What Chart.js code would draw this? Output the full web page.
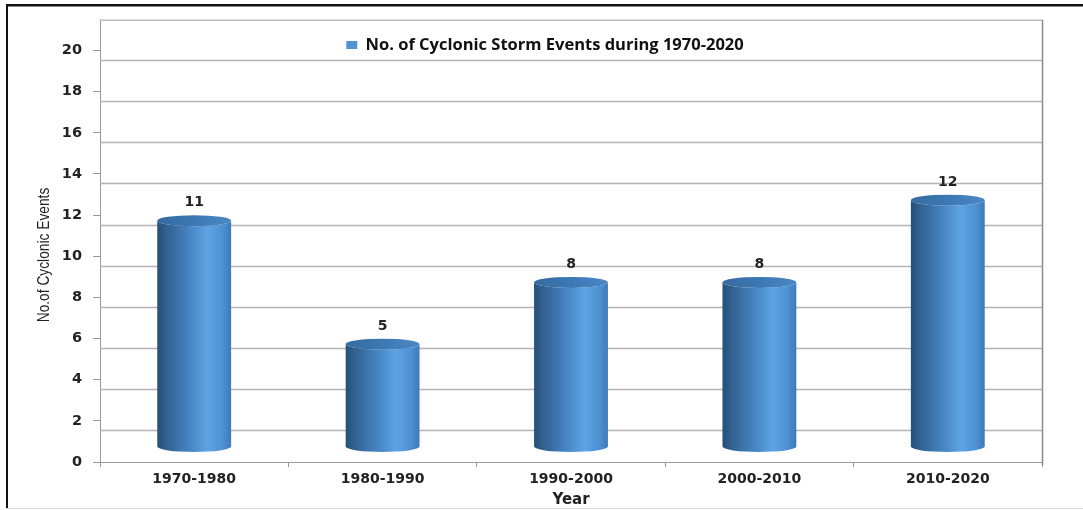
<!DOCTYPE html>
<html>
<head>
<meta charset="utf-8">
<title>Cyclonic Storm Events 1970-2020</title>
<script src="https://cdn.jsdelivr.net/npm/chart.js@4.4.1/dist/chart.umd.min.js"></script>
<style>
  html, body { margin: 0; padding: 0; background: #fff; }
  canvas { display: block; }
</style>
</head>
<body>
<canvas id="chart" width="1083" height="510"></canvas>
<script>
// Decades and number of cyclonic storm events recorded in each
const categories = ['1970-1980', '1980-1990', '1990-2000', '2000-2010', '2010-2020'];
const stormEvents = [11, 5, 8, 8, 12];
const yTicks = [0, 2, 4, 6, 8, 10, 12, 14, 16, 18, 20];
const seriesLabel = 'No. of Cyclonic Storm Events during 1970-2020';
const xTitle = 'Year';
const yTitle = 'No.of Cyclonic Events';

const AXIS_GREY = '#9a9a9a';
const TEXT = '#222222';
const BOLD_FONT = 'DejaVu Sans';
const LIFT = 15;        // cylinders sit on a raised 3D floor
const GRID_SHIFT = 9.5; // back-wall grid lines sit a little below the axis ticks
const CAP_RY = 5.5;

// White page with the picture frame around it
const framePlugin = {
  id: 'frame',
  beforeDraw(chart) {
    const ctx = chart.ctx;
    ctx.save();
    ctx.fillStyle = '#ffffff';
    ctx.fillRect(0, 0, chart.width, chart.height);
    ctx.fillStyle = '#111111';
    ctx.fillRect(6, 4, chart.width - 6, 2.5);
    ctx.fillRect(6, 4, 2, chart.height - 6);
    ctx.fillStyle = '#dddddd';
    ctx.fillRect(6, chart.height - 2, chart.width - 6, 1);
    ctx.restore();
  }
};

// Back wall: grid lines, top edge and right edge
const wallPlugin = {
  id: 'wall',
  beforeDatasetsDraw(chart) {
    const {ctx, chartArea: a, scales: {y}} = chart;
    ctx.save();
    ctx.strokeStyle = '#b4b4b4';
    ctx.lineWidth = 1.5;
    y.ticks.forEach(t => {
      if (t.value <= 0) return;
      const py = Math.round(y.getPixelForValue(t.value) + GRID_SHIFT) + 0.5;
      ctx.beginPath();
      ctx.moveTo(a.left, py);
      ctx.lineTo(a.right, py);
      ctx.stroke();
    });
    ctx.strokeStyle = '#bcbcbc';
    ctx.beginPath();
    ctx.moveTo(a.left, a.top + 0.5);
    ctx.lineTo(a.right, a.top + 0.5);
    ctx.stroke();
    ctx.strokeStyle = '#8c8c8c';
    ctx.beginPath();
    ctx.moveTo(a.right + 0.5, a.top);
    ctx.lineTo(a.right + 0.5, a.bottom + 3);
    ctx.stroke();
    ctx.restore();
  }
};

function drawCylinder(ctx, cx, top, bottom, rx, ry) {
  const body = ctx.createLinearGradient(cx - rx, 0, cx + rx, 0);
  body.addColorStop(0, '#274e78');
  body.addColorStop(0.12, '#31618f');
  body.addColorStop(0.4, '#4480bd');
  body.addColorStop(0.68, '#5ea4e4');
  body.addColorStop(0.88, '#4f91d2');
  body.addColorStop(1, '#3e7ab8');
  ctx.beginPath();
  ctx.moveTo(cx - rx, top);
  ctx.lineTo(cx - rx, bottom);
  ctx.ellipse(cx, bottom, rx, ry, 0, Math.PI, 0, true);
  ctx.lineTo(cx + rx, top);
  ctx.ellipse(cx, top, rx, ry, 0, 0, Math.PI, false);
  ctx.closePath();
  ctx.fillStyle = body;
  ctx.fill();

  const cap = ctx.createLinearGradient(cx - rx, top, cx + rx, top);
  cap.addColorStop(0, '#356a9f');
  cap.addColorStop(0.6, '#3f7bb8');
  cap.addColorStop(1, '#4a88c4');
  ctx.beginPath();
  ctx.ellipse(cx, top, rx, ry, 0, 0, Math.PI * 2);
  ctx.fillStyle = cap;
  ctx.fill();
}

// Bars are rendered as shaded cylinders with their value above them
const cylinderPlugin = {
  id: 'cylinders',
  beforeDatasetDraw(chart, args) {
    const ctx = chart.ctx;
    const meta = args.meta;
    const values = chart.data.datasets[args.index].data;
    ctx.save();
    meta.data.forEach((bar, i) => {
      const top = bar.y - LIFT;
      const bottom = bar.base - LIFT;
      drawCylinder(ctx, bar.x, top, bottom, bar.width / 2, CAP_RY);
      ctx.fillStyle = TEXT;
      ctx.font = 'bold 14px "' + BOLD_FONT + '"';
      ctx.textAlign = 'center';
      ctx.textBaseline = 'middle';
      ctx.fillText(String(values[i]), bar.x, top - 18);
    });
    ctx.restore();
    return false;
  }
};

// Vertical axis title, set in a condensed face
const yTitlePlugin = {
  id: 'yTitle',
  afterDraw(chart) {
    const ctx = chart.ctx;
    ctx.save();
    ctx.translate(45, 255);
    ctx.rotate(-Math.PI / 2);
    ctx.scale(0.86, 1);
    ctx.fillStyle = TEXT;
    ctx.font = '16px "Liberation Sans", Arial, sans-serif';
    ctx.textAlign = 'center';
    ctx.textBaseline = 'middle';
    ctx.fillText(yTitle, 0, 0);
    ctx.restore();
  }
};

// The legend floats over the top of the plot instead of reserving its own band
const floatingLegendPlugin = {
  id: 'floatingLegend',
  beforeUpdate(chart) {
    const legend = chart.legend;
    if (!legend || legend._floating) return;
    const fit = legend.fit;
    legend.fit = function () {
      fit.call(this);
      this._fullHeight = this.height;
      this.height = 0;
    };
    legend._floating = true;
  },
  afterLayout(chart) {
    const legend = chart.legend;
    if (!legend) return;
    legend.height = legend._fullHeight;
    legend.bottom = legend.top + legend.height;
  }
};

new Chart(document.getElementById('chart'), {
  type: 'bar',
  data: {
    labels: categories,
    datasets: [{
      label: seriesLabel,
      data: stormEvents,
      backgroundColor: '#4f93d3',
      borderWidth: 0,
      categoryPercentage: 0.8,
      barPercentage: 0.49
    }]
  },
  options: {
    responsive: false,
    animation: false,
    layout: { padding: { top: 15, right: 41, bottom: 0, left: 48 } },
    plugins: {
      legend: {
        position: 'top',
        labels: {
          boxWidth: 11,
          boxHeight: 8,
          padding: 17,
          color: '#111111',
          font: { family: 'Open Sans', size: 16.5, weight: 'bold' }
        }
      },
      tooltip: { enabled: false }
    },
    scales: {
      x: {
        offset: true,
        afterFit: s => { s.height = 48; },
        grid: { offset: true, drawOnChartArea: false, drawTicks: true, tickLength: 5, color: AXIS_GREY },
        border: { display: true, color: AXIS_GREY },
        ticks: { padding: 4, color: TEXT, font: { family: BOLD_FONT, size: 14, weight: 'bold' } },
        title: {
          display: true,
          text: xTitle,
          color: TEXT,
          font: { family: BOLD_FONT, size: 15, weight: 'bold' },
          padding: { top: 0, bottom: 1 }
        }
      },
      y: {
        min: 0,
        max: 21.5,
        afterBuildTicks: s => { s.ticks = yTicks.map(v => ({ value: v })); },
        afterFit: s => { s.width = 52; },
        grid: { drawOnChartArea: false, drawTicks: true, tickLength: 7, color: AXIS_GREY },
        border: { display: true, color: AXIS_GREY },
        ticks: { padding: 11, color: TEXT, font: { family: BOLD_FONT, size: 14.5, weight: 'bold' } }
      }
    }
  },
  plugins: [framePlugin, wallPlugin, cylinderPlugin, yTitlePlugin, floatingLegendPlugin]
});
</script>
</body>
</html>
